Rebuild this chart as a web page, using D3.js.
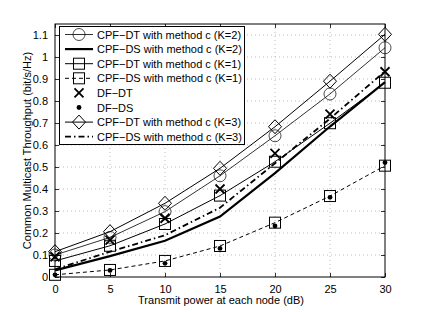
<!DOCTYPE html>
<html>
<head>
<meta charset="utf-8">
<script src="https://cdn.jsdelivr.net/npm/d3@7"></script>
<style>
  body { margin: 0; background: #fff; }
  svg text { font-family: "Liberation Sans", Arial, sans-serif; fill: #000; }
</style>
</head>
<body>
<div id="chartDiv"></div>
<script>
// data
var powerDb = [0, 5, 10, 15, 20, 25, 30];
var cpfDtK2 = [0.100, 0.180, 0.297, 0.460, 0.642, 0.832, 1.042];
var cpfDsK2 = [0.030, 0.095, 0.165, 0.275, 0.472, 0.684, 0.886];
var cpfDtK1 = [0.073, 0.142, 0.241, 0.370, 0.524, 0.699, 0.883];
var cpfDsK1 = [0.010, 0.032, 0.073, 0.141, 0.247, 0.368, 0.506];
var dfDt    = [0.092, 0.168, 0.267, 0.400, 0.562, 0.740, 0.933];
var dfDs    = [0.010, 0.030, 0.062, 0.130, 0.232, 0.362, 0.520];
var cpfDtK3 = [0.115, 0.206, 0.335, 0.494, 0.683, 0.890, 1.103];
var cpfDsK3 = [0.035, 0.115, 0.190, 0.315, 0.517, 0.720, 0.935];

var seriesNames = [
  'CPF\u2212DT with method c (K=2)',
  'CPF\u2212DS with method c (K=2)',
  'CPF\u2212DT with method c (K=1)',
  'CPF\u2212DS with method c (K=1)',
  'DF\u2212DT',
  'DF\u2212DS',
  'CPF\u2212DT with method c (K=3)',
  'CPF\u2212DS with method c (K=3)'
];
var xTicks = [0, 5, 10, 15, 20, 25, 30];
var yTicks = [0, 0.1, 0.2, 0.3, 0.4, 0.5, 0.6, 0.7, 0.8, 0.9, 1, 1.1];
var yTickLabels = ['0', '0.1', '0.2', '0.3', '0.4', '0.5', '0.6', '0.7', '0.8', '0.9', '1', '1.1'];
var xLabel = 'Transmit power at each node (dB)';
var yLabel = 'Common Multicast Throughput (bit/s/Hz)';

// line style for each series (order matches seriesNames)
var styles = [
  { values: cpfDtK2, marker: 'circle',  width: 0.8, dash: null },
  { values: cpfDsK2, marker: null,      width: 2.2, dash: null },
  { values: cpfDtK1, marker: 'square',  width: 1,   dash: null },
  { values: cpfDsK1, marker: 'square',  width: 1,   dash: '4,3' },
  { values: dfDt,    marker: 'x',       width: 0,   dash: null },
  { values: dfDs,    marker: 'dot',     width: 0,   dash: null },
  { values: cpfDtK3, marker: 'diamond', width: 1,   dash: null },
  { values: cpfDsK3, marker: null,      width: 1.8, dash: '6,3,1.5,3' }
];

var svgWidth = 425;
var svgHeight = 312;
// plot box (note: "top" is a reserved window property, so use other names)
var plotL = 55, plotR = 385, plotT = 24, plotB = 277;

var svg = d3.select('#chartDiv')
            .append('svg')
            .attr('width', svgWidth)
            .attr('height', svgHeight);

var x = d3.scaleLinear().domain([0, 30]).range([plotL, plotR]);
var y = d3.scaleLinear().domain([0, 1.15]).range([plotB, plotT]);

// dotted grid
svg.append('g')
   .selectAll('line')
   .data(xTicks.slice(1, -1))
   .enter()
   .append('line')
   .attr('x1', function(d) { return x(d); })
   .attr('x2', function(d) { return x(d); })
   .attr('y1', plotT)
   .attr('y2', plotB)
   .attr('stroke', '#aaa')
   .attr('stroke-width', 0.8)
   .attr('stroke-dasharray', '1,3');

svg.append('g')
   .selectAll('line')
   .data(yTicks.slice(1))
   .enter()
   .append('line')
   .attr('x1', plotL)
   .attr('x2', plotR)
   .attr('y1', function(d) { return y(d); })
   .attr('y2', function(d) { return y(d); })
   .attr('stroke', '#aaa')
   .attr('stroke-width', 0.8)
   .attr('stroke-dasharray', '1,3');

// axes with inner ticks, matlab style box
var axisBottom = d3.axisBottom(x).tickValues(xTicks).tickSize(-4).tickPadding(8);
var axisTop = d3.axisTop(x).tickValues(xTicks).tickSize(-4).tickFormat('');
var axisLeft = d3.axisLeft(y).tickValues(yTicks).tickSize(-4).tickPadding(7)
                 .tickFormat(function(d, i) { return yTickLabels[i]; });
var axisRight = d3.axisRight(y).tickValues(yTicks).tickSize(-4).tickFormat('');

function styleAxis(g) {
  g.select('.domain').remove();
  g.selectAll('line').attr('stroke', '#000').attr('stroke-width', 0.8);
  g.selectAll('text').style('font-size', '11px').attr('fill', '#000');
}

svg.append('g').attr('transform', 'translate(0,' + plotB + ')').call(axisBottom).call(styleAxis);
svg.append('g').attr('transform', 'translate(0,' + plotT + ')').call(axisTop).call(styleAxis);
svg.append('g').attr('transform', 'translate(' + plotL + ',0)').call(axisLeft).call(styleAxis);
svg.append('g').attr('transform', 'translate(' + plotR + ',0)').call(axisRight).call(styleAxis);

svg.append('rect')
   .attr('x', plotL).attr('y', plotT)
   .attr('width', plotR - plotL).attr('height', plotB - plotT)
   .attr('fill', 'none').attr('stroke', '#000').attr('stroke-width', 1);

// axis titles
svg.append('text')
   .attr('x', (plotL + plotR) / 2 + 1)
   .attr('y', 304)
   .attr('text-anchor', 'middle')
   .style('font-size', '11px')
   .text(xLabel);

svg.append('text')
   .attr('transform', 'translate(31,' + ((plotT + plotB) / 2) + ') rotate(-90)')
   .attr('text-anchor', 'middle')
   .style('font-size', '11px')
   .text(yLabel);

// marker drawing helper
function drawMarker(g, kind, cx, cy) {
  if (kind === 'circle') {
    g.append('circle').attr('cx', cx).attr('cy', cy).attr('r', 6)
     .attr('fill', 'none').attr('stroke', '#000').attr('stroke-width', 0.7);
  } else if (kind === 'square') {
    g.append('rect').attr('x', cx - 5.5).attr('y', cy - 5.5).attr('width', 11).attr('height', 11)
     .attr('fill', 'none').attr('stroke', '#000').attr('stroke-width', 1);
  } else if (kind === 'diamond') {
    g.append('path')
     .attr('d', 'M' + cx + ',' + (cy - 7) + 'L' + (cx + 6.5) + ',' + cy + 'L' + cx + ',' + (cy + 7) + 'L' + (cx - 6.5) + ',' + cy + 'Z')
     .attr('fill', 'none').attr('stroke', '#000').attr('stroke-width', 1);
  } else if (kind === 'x') {
    g.append('path')
     .attr('d', 'M' + (cx - 4.5) + ',' + (cy - 4.5) + 'L' + (cx + 4.5) + ',' + (cy + 4.5) +
                'M' + (cx - 4.5) + ',' + (cy + 4.5) + 'L' + (cx + 4.5) + ',' + (cy - 4.5))
     .attr('fill', 'none').attr('stroke', '#000').attr('stroke-width', 1.8);
  } else if (kind === 'dot') {
    g.append('circle').attr('cx', cx).attr('cy', cy).attr('r', 2.4).attr('fill', '#000');
  }
}

var line = d3.line()
             .x(function(d, i) { return x(powerDb[i]); })
             .y(function(d) { return y(d); });

// curves
var plot = svg.append('g');
styles.forEach(function(s) {
  if (s.width > 0) {
    plot.append('path')
        .attr('d', line(s.values))
        .attr('fill', 'none')
        .attr('stroke', '#000')
        .attr('stroke-width', s.width)
        .attr('stroke-dasharray', s.dash);
  }
  if (s.marker) {
    s.values.forEach(function(v, i) {
      drawMarker(plot, s.marker, x(powerDb[i]), y(v));
    });
  }
});

// legend
var legX = 59.5, legY = 26.5, legW = 185, legH = 118, rowH = 14.6;
var legend = svg.append('g');
legend.append('rect')
      .attr('x', legX).attr('y', legY).attr('width', legW).attr('height', legH)
      .attr('fill', '#fff').attr('stroke', '#000').attr('stroke-width', 1);

styles.forEach(function(s, i) {
  var cy = legY + 8 + i * rowH;
  if (s.width > 0) {
    legend.append('line')
          .attr('x1', 65).attr('x2', 93).attr('y1', cy).attr('y2', cy)
          .attr('stroke', '#000')
          .attr('stroke-width', s.width)
          .attr('stroke-dasharray', s.dash);
  }
  if (s.marker) {
    drawMarker(legend, s.marker, 79, cy);
  }
  legend.append('text')
        .attr('x', 97)
        .attr('y', cy + 4)
        .style('font-size', '11px')
        .text(seriesNames[i]);
});
</script>
</body>
</html>
